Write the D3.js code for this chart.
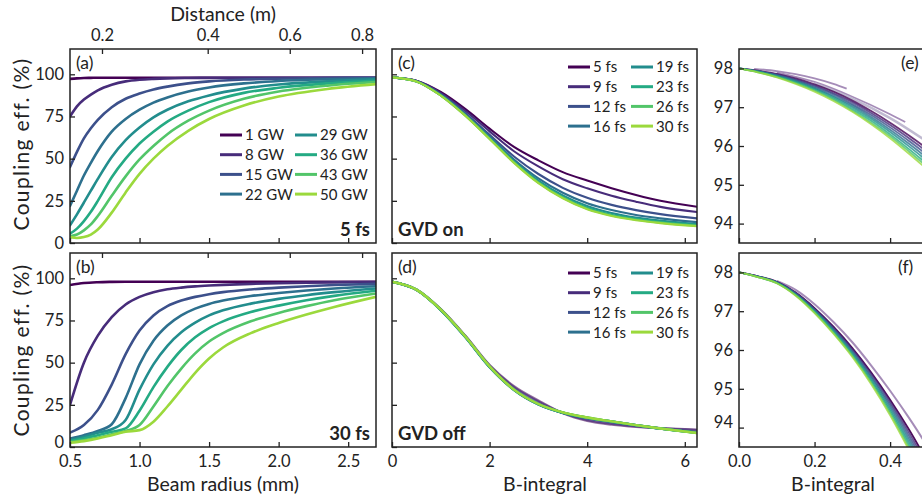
<!DOCTYPE html>
<html>
<head>
<meta charset="utf-8">
<script src="https://cdn.jsdelivr.net/npm/d3@7"></script>
<style>
  body { margin: 0; background: #fff; }
  svg text { font-family: Lato, "Open Sans", sans-serif; fill: #222; }
</style>
</head>
<body>
<svg id="chart" width="922" height="502"></svg>
<script>
// ---- data ----

var powers = ['1 GW', '8 GW', '15 GW', '22 GW', '29 GW', '36 GW', '43 GW', '50 GW'];
var durations = ['5 fs', '9 fs', '12 fs', '16 fs', '19 fs', '23 fs', '26 fs', '30 fs'];

// top axis of (a)/(b): distance ticks and the beam radius they sit at
var distanceTicks = [0.2, 0.4, 0.6, 0.8];
var distanceAtRadius = [0.73, 1.49, 2.08, 2.60];

// (a) 5 fs, coupling vs beam radius
var radiusA = [0.5, 0.55, 0.6, 0.65, 0.7, 0.8, 0.9, 1.0, 1.1, 1.2, 1.35, 1.5, 1.75, 2.0, 2.35, 2.7];
var couplingA = [
  [97.3, 97.6, 97.8, 97.9, 98, 98, 98, 98, 98, 98, 98, 98, 98, 98, 98, 98],
  [75, 81, 85, 88, 90.5, 93.8, 95.8, 96.8, 97.3, 97.6, 97.8, 97.9, 98, 98, 98, 98],
  [45, 54, 62, 68, 73, 80.5, 85.5, 88.6, 91, 92.7, 94.6, 95.8, 96.9, 97.4, 97.8, 97.9],
  [22, 31, 40, 47.5, 54.5, 66, 73.5, 79, 83.2, 86.3, 89.8, 92.2, 94.6, 96, 97, 97.6],
  [10.5, 17, 24, 31, 38, 51, 61, 68.5, 74.5, 79, 84, 87.5, 91.5, 94, 95.8, 97],
  [5.5, 8.5, 13, 18.5, 25, 39, 50, 59, 66, 72, 78.5, 83.5, 89, 92, 94.6, 96.2],
  [4, 5, 7.5, 11, 16, 28, 39.5, 49.5, 57.5, 64.5, 72.5, 78.5, 85.5, 89.8, 93.3, 95.4],
  [3.5, 3, 3.5, 5, 8, 18, 30, 41, 50, 57.5, 66.5, 73.5, 81.5, 86.8, 91.3, 94.2]
];

// (b) 30 fs
var radiusB = [0.5, 0.6, 0.7, 0.8, 0.9, 1.0, 1.1, 1.2, 1.3, 1.4, 1.5, 1.6, 1.8, 2.0, 2.2, 2.4, 2.7];
var couplingB = [
  [96, 97.2, 97.7, 97.9, 98, 98, 98, 98, 98, 98, 98, 98, 98, 98, 98, 98, 98],
  [25, 50, 66, 77, 84.5, 89, 91.8, 93.5, 94.5, 95.2, 95.7, 96.1, 96.7, 97.1, 97.4, 97.6, 97.8],
  [8.5, 13, 22, 37, 55, 69, 78, 83.5, 86.8, 89, 90.6, 91.8, 93.4, 94.5, 95.3, 96, 96.7],
  [5, 7, 9.5, 13.5, 29, 49, 63, 72, 78, 82, 84.8, 86.8, 89.5, 91.3, 92.8, 94, 95.3],
  [4, 6, 8.5, 10.5, 16, 34, 49, 60, 68, 73.7, 78, 81, 85, 87.8, 90, 91.8, 94],
  [3.5, 5, 7, 9, 11, 21.5, 35.5, 47.5, 57.5, 65, 70.5, 74.5, 80, 83.8, 87, 89.6, 92.6],
  [3, 4, 5.5, 7.5, 9.5, 13, 24, 36, 46.5, 55.5, 62.5, 67.5, 74.5, 79.5, 83.5, 87, 91],
  [2.5, 3.5, 5, 7, 9, 10, 15, 24, 34, 44, 52.5, 59, 67.5, 73.5, 78.5, 83, 89]
];

// (c) GVD on / (d) GVD off, coupling vs B-integral
var bIntegral = [0, 0.5, 1, 1.5, 2, 2.5, 3, 3.5, 4, 4.5, 5, 5.5, 6.25];
var couplingC = [
  [98.2, 96.2, 89.5, 79.5, 67.8, 57, 49, 42, 37, 32.5, 28.5, 25, 21.5],
  [98.2, 96.1, 88.9, 78.4, 66.2, 54.4, 45.4, 37.8, 32.4, 28.0, 24.5, 21.4, 18.4],
  [98.2, 96.0, 88.2, 77.1, 64.1, 51.3, 40.9, 32.7, 26.8, 22.6, 19.5, 17.1, 14.6],
  [98.2, 95.9, 87.8, 76.3, 63.0, 49.5, 38.3, 29.8, 23.6, 19.5, 16.6, 14.6, 12.4],
  [98.2, 95.8, 87.6, 75.9, 62.4, 48.5, 37.0, 28.2, 21.9, 17.8, 15.1, 13.3, 11.3],
  [98.2, 95.8, 87.5, 75.7, 62.0, 48.0, 36.2, 27.3, 20.9, 16.8, 14.3, 12.5, 10.6],
  [98.2, 95.8, 87.4, 75.6, 61.8, 47.7, 35.8, 26.8, 20.3, 16.3, 13.8, 12.1, 10.2],
  [98.2, 95.8, 87.4, 75.5, 61.7, 47.5, 35.5, 26.5, 20, 16, 13.5, 11.8, 10]
];
var couplingD = [
  [98, 93.4, 81.7, 66, 48.5, 36, 27.5, 20, 15.5, 13.3, 12, 11.2, 10.3],
  [98, 93.3, 81.6, 65.9, 48.3, 35.5, 27, 20.2, 16, 13.8, 12.3, 11.1, 10],
  [98, 93.2, 81.3, 65.4, 47.6, 34.2, 25.6, 20.3, 17, 14.8, 12.8, 11, 8.8],
  [98, 93.2, 81.2, 65.2, 47.3, 33.8, 25.2, 20.2, 17.2, 15, 12.9, 10.9, 8.6],
  [98, 93.2, 81.2, 65.3, 47.4, 33.9, 25.3, 20.3, 17.3, 15.1, 13, 10.9, 8.5],
  [98, 93.3, 81.3, 65.4, 47.6, 33.9, 25.4, 20.4, 17.4, 15.1, 13, 11, 8.4],
  [98, 93.3, 81.4, 65.5, 47.7, 34, 25.5, 20.5, 17.5, 15.2, 13, 11, 8.3],
  [98, 93.3, 81.4, 65.6, 47.8, 34, 25.5, 20.5, 17.5, 15.2, 13, 11, 8.3]
];

// (e)/(f) zoom on low B-integral
var bZoom = [0, 0.05, 0.1, 0.15, 0.2, 0.25, 0.3, 0.35, 0.4, 0.45, 0.5];
var couplingE = [
  [98.0, 97.94, 97.86, 97.74, 97.59, 97.4, 97.17, 96.9, 96.6, 96.27, 95.92],
  [98.0, 97.93, 97.85, 97.72, 97.56, 97.36, 97.13, 96.85, 96.54, 96.2, 95.84],
  [98.0, 97.93, 97.83, 97.7, 97.53, 97.33, 97.08, 96.8, 96.48, 96.13, 95.76],
  [98.0, 97.92, 97.82, 97.68, 97.5, 97.29, 97.04, 96.75, 96.42, 96.06, 95.68],
  [98.0, 97.92, 97.81, 97.66, 97.48, 97.26, 97.0, 96.7, 96.36, 95.99, 95.6],
  [98.0, 97.91, 97.79, 97.64, 97.45, 97.22, 96.95, 96.65, 96.3, 95.92, 95.52],
  [98.0, 97.9, 97.78, 97.62, 97.43, 97.19, 96.91, 96.6, 96.25, 95.86, 95.45],
  [98.0, 97.9, 97.77, 97.6, 97.4, 97.16, 96.88, 96.56, 96.2, 95.8, 95.38]
];
var couplingF = [
  [98.0, 97.9, 97.76, 97.48, 97.08, 96.6, 96.05, 95.42, 94.72, 93.95, 93.1],
  [98.0, 97.9, 97.75, 97.47, 97.06, 96.57, 96.02, 95.38, 94.66, 93.87, 93.0],
  [98.0, 97.89, 97.75, 97.46, 97.04, 96.55, 95.98, 95.33, 94.6, 93.79, 92.9],
  [98.0, 97.89, 97.74, 97.44, 97.02, 96.52, 95.95, 95.29, 94.54, 93.71, 92.81],
  [98.0, 97.89, 97.74, 97.43, 97.0, 96.49, 95.91, 95.24, 94.48, 93.63, 92.71],
  [98.0, 97.88, 97.73, 97.42, 96.98, 96.47, 95.88, 95.2, 94.42, 93.55, 92.61],
  [98.0, 97.88, 97.72, 97.41, 96.97, 96.44, 95.85, 95.16, 94.37, 93.48, 92.53],
  [98.0, 97.88, 97.72, 97.4, 96.95, 96.42, 95.82, 95.12, 94.32, 93.42, 92.45]
];
// faint extra traces (light purple) in (e) and (f)
var faintE1B = [0.04, 0.1, 0.15, 0.2, 0.25, 0.285];
var faintE1 = [97.99, 97.93, 97.85, 97.74, 97.6, 97.48];
var faintE2B = [0.1, 0.2, 0.3, 0.4, 0.44];
var faintE2 = [97.9, 97.65, 97.27, 96.82, 96.62];
var faintE3B = [0.2, 0.3, 0.4, 0.5];
var faintE3 = [97.62, 97.22, 96.72, 96.1];
var faintFB = [0.1, 0.15, 0.2, 0.25, 0.3, 0.35, 0.4, 0.45, 0.5];
var faintF = [97.78, 97.55, 97.18, 96.72, 96.2, 95.6, 94.95, 94.25, 93.5];

var yTicksMain = [0, 25, 50, 75, 100];
var yTicksZoom = [94, 95, 96, 97, 98];

// ---- drawing ----

var svg = d3.select('#chart');
var ink = '#222';

// viridis sampled from 0 to 0.85
var colors = d3.range(8).map(function(i) { return d3.interpolateViridis(i * 0.85 / 7); });

function makePanel(p) {
  var g = svg.append('g').attr('transform', 'translate(' + p.left + ',' + p.top + ')');
  var x = d3.scaleLinear().domain(p.xDomain).range([0, p.width]);
  var y = d3.scaleLinear().domain(p.yDomain).range([p.height, 0]);

  g.append('clipPath').attr('id', 'clip-' + p.name)
    .append('rect').attr('width', p.width).attr('height', p.height);

  var line = d3.line()
    .x(function(d) { return x(d[0]); })
    .y(function(d) { return y(d[1]); })
    .curve(d3.curveMonotoneX);

  var plot = g.append('g').attr('clip-path', 'url(#clip-' + p.name + ')');

  (p.extra || []).forEach(function(e) {
    plot.append('path')
      .datum(e.xs.map(function(v, i) { return [v, e.ys[i]]; }))
      .attr('d', line)
      .attr('fill', 'none')
      .attr('stroke', e.color)
      .attr('stroke-width', e.width)
      .attr('stroke-opacity', e.opacity);
  });

  p.values.forEach(function(vals, k) {
    plot.append('path')
      .datum(p.xs.map(function(v, i) { return [v, vals[i]]; }))
      .attr('d', line)
      .attr('fill', 'none')
      .attr('stroke', colors[k])
      .attr('stroke-width', p.lineWidth)
      .attr('stroke-opacity', p.opacity ? p.opacity[k] : 1)
      .attr('stroke-linecap', 'round');
  });

  // axes with inward ticks
  var bottom = d3.axisBottom(x).tickValues(p.xTicks).tickSizeInner(-5).tickSizeOuter(0).tickPadding(8)
    .tickFormat(p.xLabels ? d3.format(p.xFormat) : '');
  g.append('g').attr('class', 'axis').attr('transform', 'translate(0,' + p.height + ')').call(bottom);

  var left = d3.axisLeft(y).tickValues(p.yTicks).tickSizeInner(-5).tickSizeOuter(0).tickPadding(6)
    .tickFormat(p.yLabels ? d3.format('d') : '');
  g.append('g').attr('class', 'axis y').call(left);

  if (p.topAxis) {
    var top = d3.axisTop(x).tickValues(distanceAtRadius).tickSizeInner(-5).tickSizeOuter(0).tickPadding(8)
      .tickFormat(function(d, i) { return p.topLabels ? distanceTicks[i].toFixed(1) : ''; });
    g.append('g').attr('class', 'axis').call(top);
  }

  g.selectAll('.axis .domain').remove();
  g.selectAll('.axis line').attr('stroke', ink).attr('stroke-width', 1.3);
  g.selectAll('.axis text').style('font-size', '16.5px').style('font-family', 'Lato, sans-serif').attr('fill', ink);
  // keep the lowest y label clear of the x labels below it
  if (p.xLabels) {
    g.selectAll('.axis.y .tick text').filter(function(d) { return d === p.yTicks[0]; }).attr('dy', '0.02em');
  }

  g.append('rect')
    .attr('width', p.width).attr('height', p.height)
    .attr('fill', 'none').attr('stroke', ink).attr('stroke-width', 1.5);

  if (p.tag) {
    g.append('text').attr('x', p.tagX).attr('y', 20)
      .style('font-size', '17.5px').text(p.tag);
  }
  if (p.note) {
    g.append('text').attr('x', p.noteX).attr('y', p.height - 7)
      .attr('text-anchor', p.noteAnchor)
      .style('font-size', '18.5px').style('font-weight', 'bold').text(p.note);
  }
  if (p.legend) {
    var lg = g.append('g');
    p.legend.forEach(function(name, k) {
      var col = Math.floor(k / 4), row = k % 4;
      var lx = p.legendX[col], ly = p.legendY + row * 19.7;
      lg.append('line').attr('x1', lx).attr('x2', lx + 22).attr('y1', ly).attr('y2', ly)
        .attr('stroke', colors[k]).attr('stroke-width', 3);
      lg.append('text').attr('x', lx + 25).attr('y', ly).attr('dy', '0.36em')
        .style('font-size', '15px').text(name);
    });
  }
  return g;
}

var W = 306, H = 194;

makePanel({ name: 'a', left: 70, top: 49, width: W, height: H,
  xDomain: [0.5, 2.7], yDomain: [0, 115], xs: radiusA, values: couplingA, lineWidth: 2.6,
  xTicks: [0.5, 1.0, 1.5, 2.0, 2.5], xLabels: false, yTicks: yTicksMain, yLabels: true,
  topAxis: true, topLabels: true, tag: '(a)', tagX: 6,
  note: '5 fs', noteX: W - 6, noteAnchor: 'end',
  legend: powers, legendX: [150, 225], legendY: 86 });

makePanel({ name: 'b', left: 70, top: 253, width: W, height: H,
  xDomain: [0.5, 2.7], yDomain: [0, 115], xs: radiusB, values: couplingB, lineWidth: 2.6,
  xTicks: [0.5, 1.0, 1.5, 2.0, 2.5], xLabels: true, xFormat: '.1f', yTicks: yTicksMain, yLabels: true,
  topAxis: true, topLabels: false, tag: '(b)', tagX: 6,
  note: '30 fs', noteX: W - 6, noteAnchor: 'end' });

makePanel({ name: 'c', left: 392, top: 49, width: 305, height: H,
  xDomain: [0, 6.25], yDomain: [0, 115], xs: bIntegral, values: couplingC, lineWidth: 2.1,
  xTicks: [0, 2, 4, 6], xLabels: false, yTicks: yTicksMain, yLabels: false,
  tag: '(c)', tagX: 6, note: 'GVD on', noteX: 6, noteAnchor: 'start',
  legend: durations, legendX: [176, 239], legendY: 18 });

makePanel({ name: 'd', left: 392, top: 253, width: 305, height: H,
  xDomain: [0, 6.25], yDomain: [0, 115], xs: bIntegral, values: couplingD, lineWidth: 2.4,
  opacity: [0.55, 0.7, 0.9, 1, 1, 1, 1, 1],
  xTicks: [0, 2, 4, 6], xLabels: true, xFormat: 'd', yTicks: yTicksMain, yLabels: false,
  tag: '(d)', tagX: 6, note: 'GVD off', noteX: 6, noteAnchor: 'start',
  legend: durations, legendX: [176, 239], legendY: 20 });

var light = '#9b7fb0';

makePanel({ name: 'e', left: 739, top: 49, width: W, height: H,
  xDomain: [0, 0.81], yDomain: [93.5, 98.5], xs: bZoom, values: couplingE, lineWidth: 1.8,
  opacity: [0.8, 0.8, 0.8, 0.8, 0.8, 0.8, 0.8, 0.8],
  xTicks: [0, 0.2, 0.4], xLabels: false, yTicks: yTicksZoom, yLabels: true,
  tag: '(e)', tagX: 162,
  extra: [
    { xs: faintE1B, ys: faintE1, color: light, width: 1.8, opacity: 0.9 },
    { xs: faintE2B, ys: faintE2, color: light, width: 1.8, opacity: 0.9 },
    { xs: faintE3B, ys: faintE3, color: '#b9b3cc', width: 2.5, opacity: 0.9 }
  ] });

makePanel({ name: 'f', left: 739, top: 253, width: W, height: H,
  xDomain: [0, 0.81], yDomain: [93.5, 98.5], xs: bZoom, values: couplingF, lineWidth: 1.8,
  opacity: [0.95, 0.8, 0.8, 0.8, 0.8, 0.8, 0.8, 0.8],
  xTicks: [0, 0.2, 0.4], xLabels: true, xFormat: '.1f', yTicks: yTicksZoom, yLabels: true,
  tag: '(f)', tagX: 159,
  extra: [
    { xs: faintFB, ys: faintF, color: light, width: 2, opacity: 0.9 }
  ] });

// axis titles
svg.append('text').attr('x', 223).attr('y', 21).attr('text-anchor', 'middle')
  .style('font-size', '19.5px').text('Distance (m)');
svg.append('text').attr('x', 223).attr('y', 491).attr('text-anchor', 'middle')
  .style('font-size', '19.5px').text('Beam radius (mm)');
svg.append('text').attr('x', 545).attr('y', 491).attr('text-anchor', 'middle')
  .style('font-size', '19.5px').text('B-integral');
svg.append('text').attr('x', 833).attr('y', 491).attr('text-anchor', 'middle')
  .style('font-size', '19.5px').text('B-integral');
[144, 350].forEach(function(cy) {
  svg.append('text').attr('transform', 'translate(29,' + cy + ') rotate(-90)')
    .attr('text-anchor', 'middle').style('font-size', '21px').style('letter-spacing', '1.3px')
    .text('Coupling eff. (%)');
});
</script>
</body>
</html>
